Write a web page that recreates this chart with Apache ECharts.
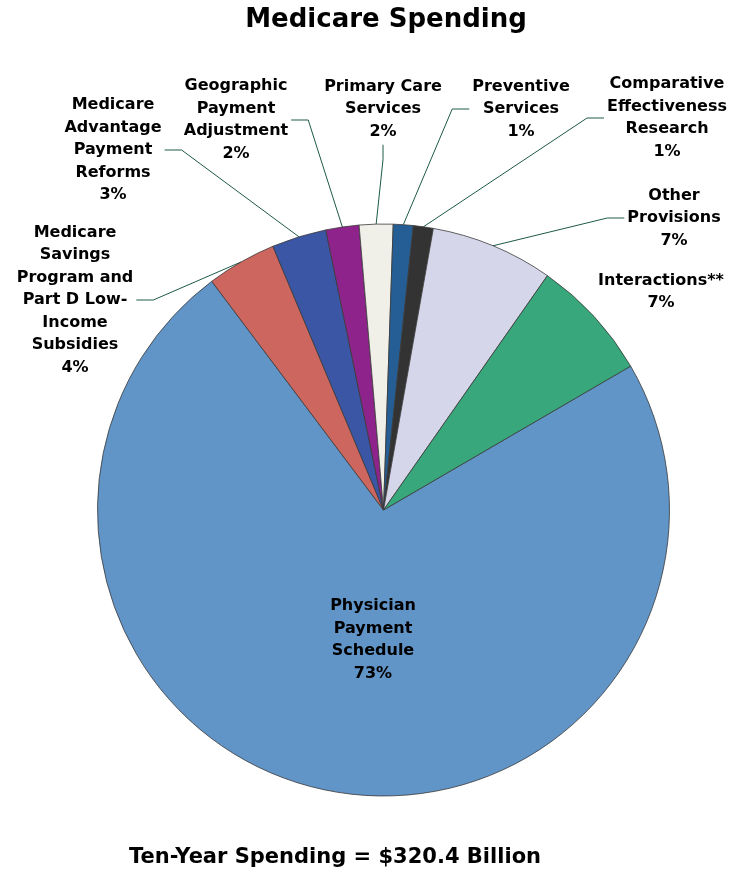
<!DOCTYPE html>
<html><head><meta charset="utf-8">
<script src="https://cdn.jsdelivr.net/npm/echarts@6/dist/echarts.min.js"></script>
<style>html,body{margin:0;padding:0;background:#fff}#c{width:740px;height:874px}</style>
</head><body><div id="c"></div>
<script>
// Data (ten-year spending, $ billions)
const categories = [
  'Physician\nPayment\nSchedule',
  'Medicare\nSavings\nProgram and\nPart D Low-\nIncome\nSubsidies',
  'Medicare\nAdvantage\nPayment\nReforms',
  'Geographic\nPayment\nAdjustment',
  'Primary Care\nServices',
  'Preventive\nServices',
  'Comparative\nEffectiveness\nResearch',
  'Other\nProvisions',
  'Interactions**'
];
const values = [234.4, 12.6, 9.9, 6.0, 6.1, 3.6, 3.6, 22.2, 22.1];
const titleText = 'Medicare Spending';
const footerText = 'Ten-Year Spending = $320.4 Billion';

// Styles / layout
const colors = ['#6194C7', '#CD665E', '#3A56A5', '#8E238C', '#F1F0E8', '#255E95', '#333333', '#D5D6EA', '#38A77B'];
const labelLayouts = [
  { x: 373, y: 640, attach: null },
  { x: 75,  y: 300, attach: 'right' },
  { x: 113, y: 150, attach: 'right' },
  { x: 236, y: 120, attach: 'right' },
  { x: 383, y: 109, attach: 'bottom' },
  { x: 521, y: 109, attach: 'left' },
  { x: 667, y: 118, attach: 'left' },
  { x: 674, y: 218, attach: 'left' },
  { x: 661, y: 292, attach: null }
];

const chart = echarts.init(document.getElementById('c'), null, { renderer: 'canvas' });
const data = categories.map((name, i) => ({
  name: name,
  value: values[i],
  itemStyle: { color: colors[i] },
  label: i === 0 ? { position: 'inside' } : {},
  labelLine: { show: !!labelLayouts[i].attach }
}));

chart.setOption({
  animation: false,
  backgroundColor: '#ffffff',
  graphic: [
    { type: 'text', x: 386, y: 20, style: { text: titleText, font: 'bold 26px "DejaVu Sans"', fill: '#000', align: 'center', verticalAlign: 'middle' } },
    { type: 'text', x: 335, y: 858, style: { text: footerText, font: 'bold 21px "DejaVu Sans"', fill: '#000', align: 'center', verticalAlign: 'middle' } }
  ],
  series: [{
    type: 'pie',
    center: [383.5, 510],
    radius: 286,
    startAngle: 30.2,
    clockwise: true,
    avoidLabelOverlap: false,
    percentPrecision: 0,
    data: data,
    itemStyle: { borderColor: '#3a3a3a', borderWidth: 0.8 },
    label: {
      show: true,
      position: 'outside',
      formatter: '{b}\n{d}%',
      color: '#000',
      fontFamily: 'DejaVu Sans',
      fontWeight: 'bold',
      fontSize: 16,
      lineHeight: 22.5,
      align: 'center'
    },
    labelLine: { show: true, lineStyle: { color: '#1E5A48', width: 1 } },
    emphasis: { disabled: true },
    labelLayout: function (p) {
      const L = labelLayouts[p.dataIndex];
      const res = { x: L.x, y: L.y, align: 'center', verticalAlign: 'middle' };
      if (L.attach && p.labelLinePoints) {
        const w = p.labelRect.width, h = p.labelRect.height;
        const edge = p.labelLinePoints[0];
        let a, b;
        if (L.attach === 'right') { a = [L.x + w / 2 + 3, L.y]; b = [a[0] + 17, L.y]; }
        else if (L.attach === 'left') { a = [L.x - w / 2 - 3, L.y]; b = [a[0] - 17, L.y]; }
        else { a = [L.x, L.y + h / 2 + 2]; b = [L.x, a[1] + 15]; }
        res.labelLinePoints = [edge, b, a];
      }
      return res;
    }
  }]
});
</script></body></html>
